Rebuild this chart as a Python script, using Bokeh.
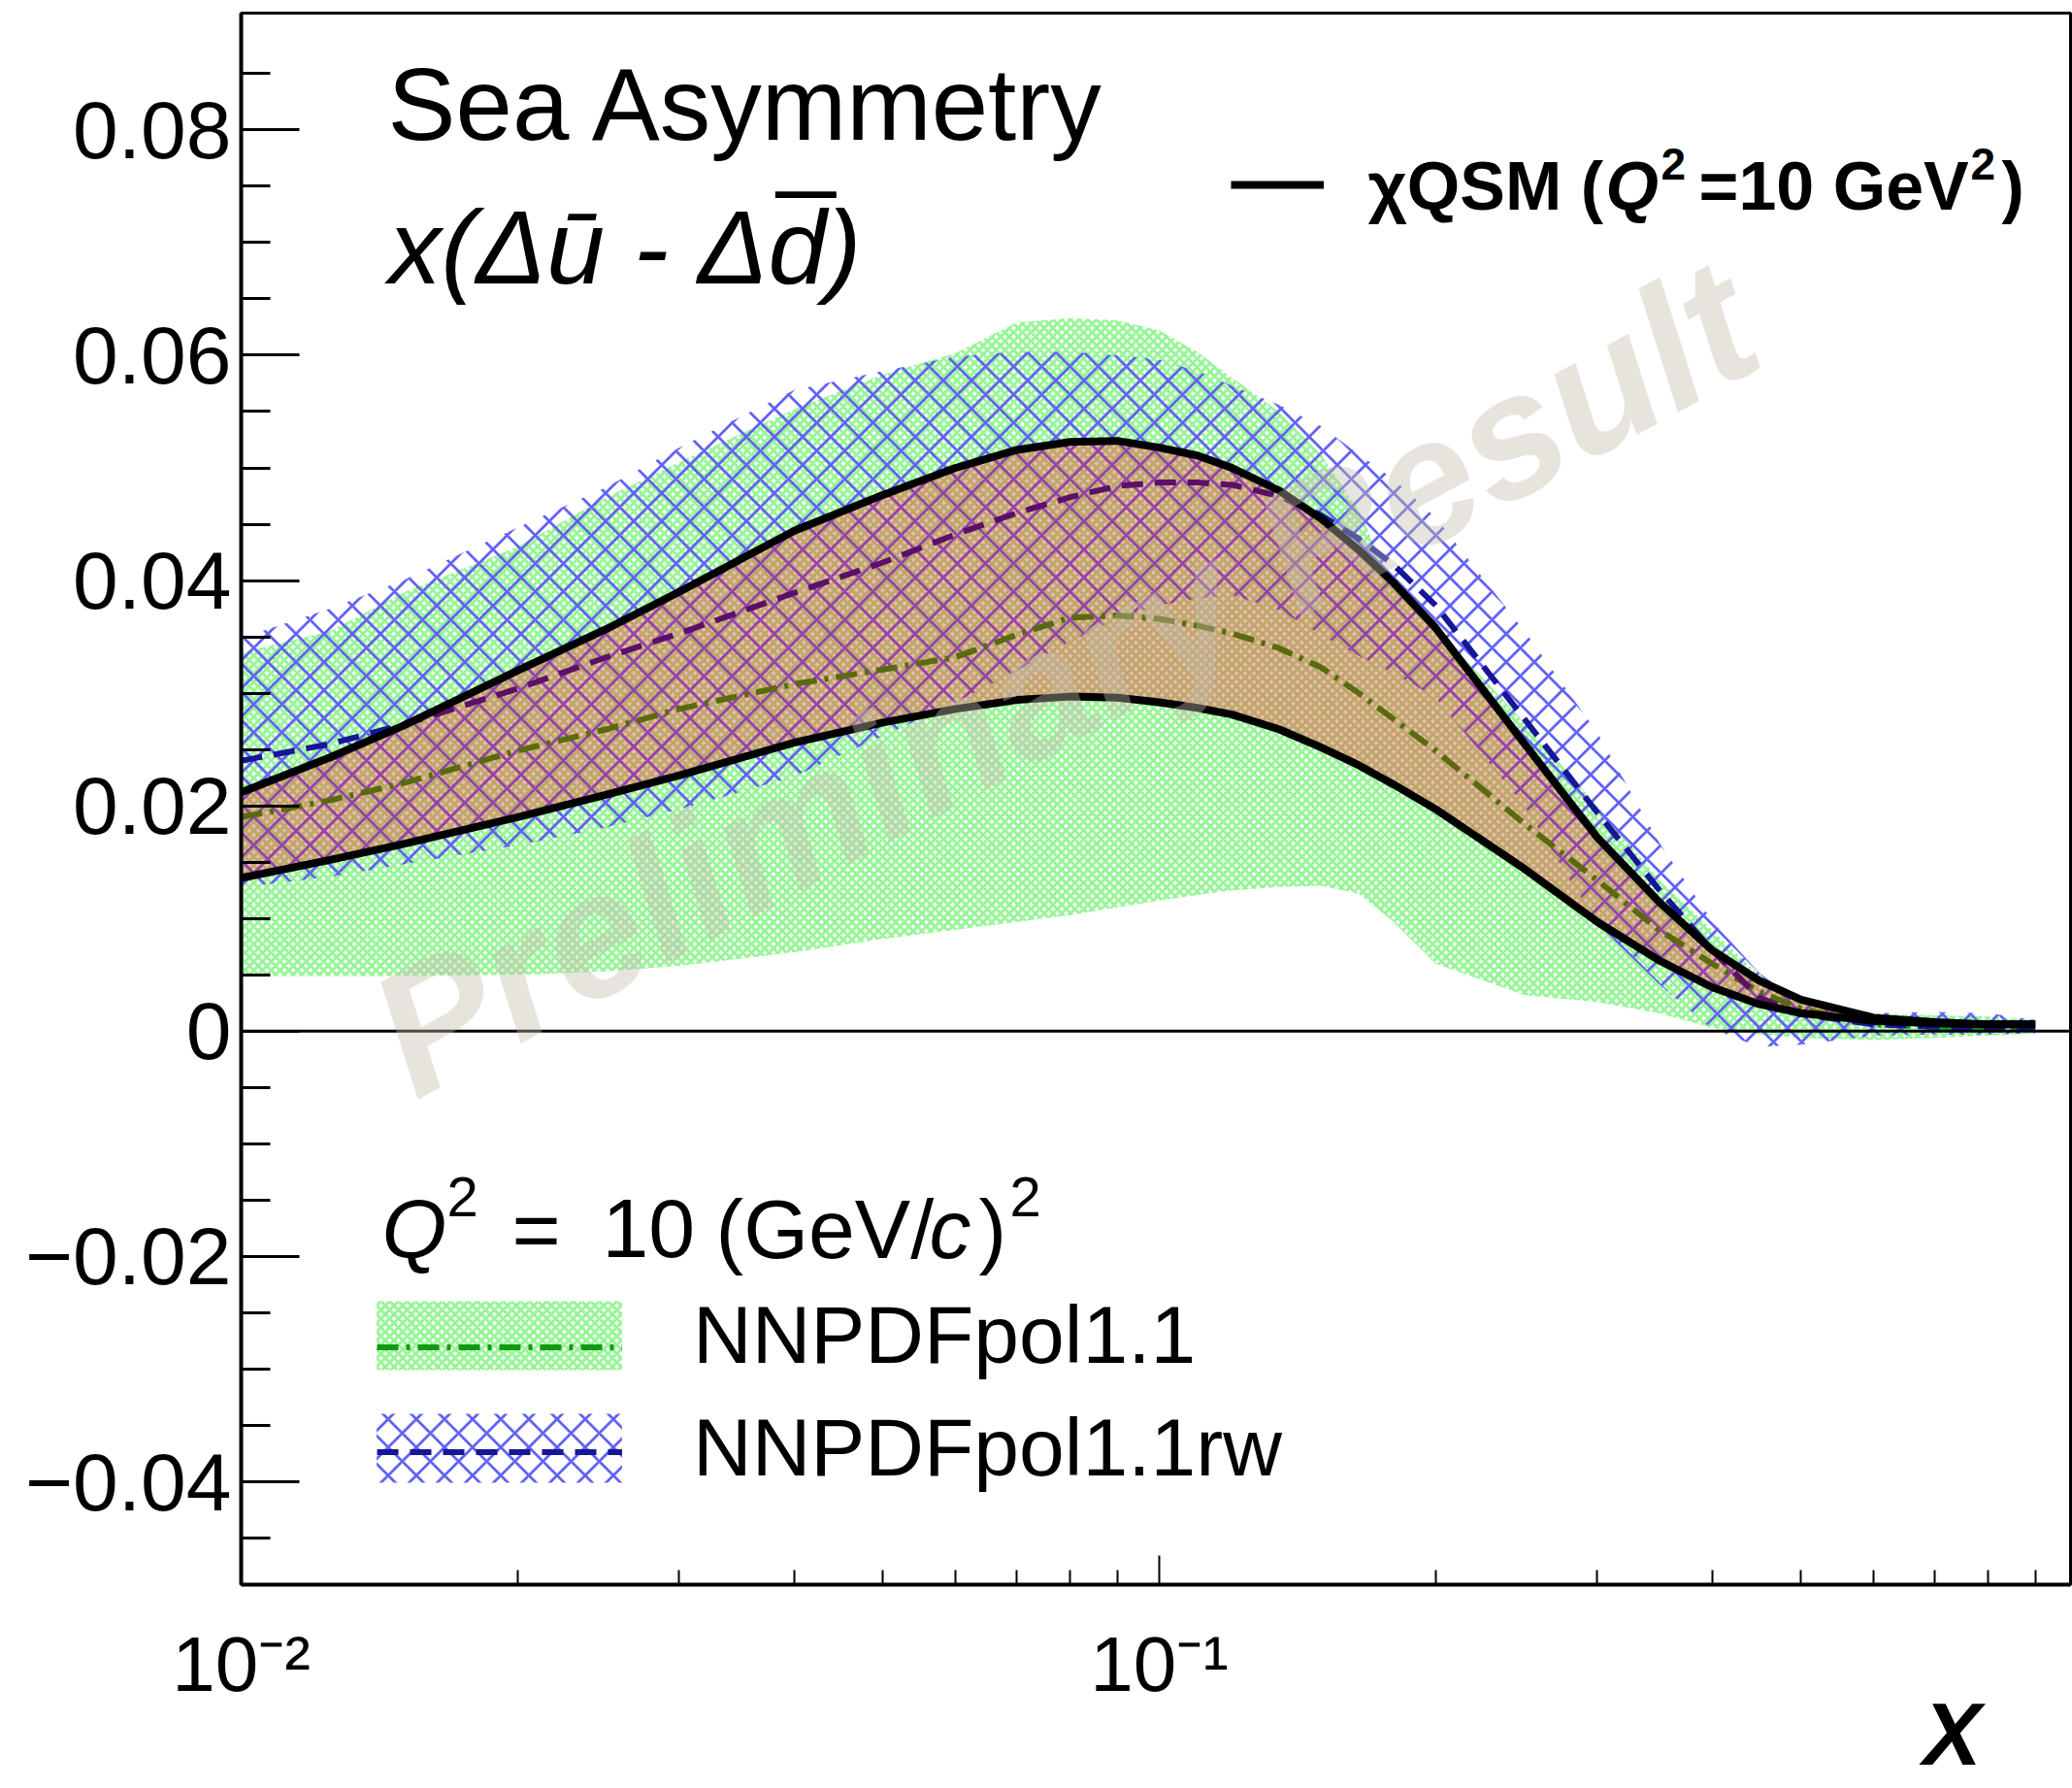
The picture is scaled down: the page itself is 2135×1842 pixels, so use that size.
import math
from bokeh.plotting import figure
from bokeh.models import (Range1d, FixedTicker, CustomJSTickFormatter, Label,
                          Legend, LegendItem, Span, Title)
from bokeh.core.properties import value
from bokeh.embed import file_html
from bokeh.resources import INLINE

# ---------------- data ----------------
x_vals = [0.01, 0.0125, 0.015, 0.02, 0.025, 0.03, 0.04, 0.05, 0.06, 0.07, 0.08,
          0.09, 0.1, 0.11, 0.12, 0.135, 0.15, 0.165, 0.18, 0.2, 0.25, 0.3, 0.35,
          0.4, 0.45, 0.5, 0.6, 0.7, 0.8, 0.9]

# chiQSM band (upper / lower black curves)
qsm_hi = [0.0212, 0.0243, 0.0271, 0.0320, 0.0357, 0.0390, 0.0444, 0.0476, 0.0500,
          0.0516, 0.0523, 0.0524, 0.0518, 0.0511, 0.0500, 0.0480, 0.0455, 0.0427,
          0.0398, 0.0358, 0.0255, 0.0172, 0.0115, 0.0072, 0.0045, 0.0028, 0.0012,
          0.0008, 0.0006, 0.0006]
qsm_lo = [0.0136, 0.0152, 0.0166, 0.0190, 0.0210, 0.0227, 0.0256, 0.0274, 0.0286,
          0.0294, 0.0297, 0.0296, 0.0292, 0.0287, 0.0281, 0.0268, 0.0252, 0.0236,
          0.0219, 0.0197, 0.0144, 0.0097, 0.0063, 0.0039, 0.0024, 0.0016, 0.0009,
          0.0007, 0.0006, 0.0006]

# NNPDFpol1.1 (central + error band)
nn_c = [0.0190, 0.0205, 0.0220, 0.0249, 0.0268, 0.0286, 0.0308, 0.0321, 0.0332,
        0.0352, 0.0367, 0.0369, 0.0366, 0.0360, 0.0353, 0.0340, 0.0323, 0.0300,
        0.0277, 0.0249, 0.0184, 0.0134, 0.0090, 0.0060, 0.0035, 0.0020, 0.0006,
        0.0004, 0.0003, 0.0003]
nn_hi = [0.0336, 0.0355, 0.0389, 0.0430, 0.0474, 0.0505, 0.0552, 0.0583, 0.0602,
         0.0629, 0.0633, 0.0631, 0.0622, 0.0603, 0.0580, 0.0550, 0.0512, 0.0462,
         0.0395, 0.0358, 0.0274, 0.0200, 0.0135, 0.0090, 0.0050, 0.0028, 0.0016,
         0.0014, 0.0013, 0.0010]
nn_lo = [0.0049, 0.0049, 0.0049, 0.0050, 0.0053, 0.0058, 0.0070, 0.0082, 0.0090,
         0.0097, 0.0103, 0.0110, 0.0116, 0.0121, 0.0125, 0.0128, 0.0129, 0.0122,
         0.0097, 0.0060, 0.0032, 0.0026, 0.0016, 0.0003, -0.0003, -0.0006, -0.0008,
         -0.0006, -0.0004, -0.0002]

# NNPDFpol1.1rw (central + error band)
rw_c = [0.0240, 0.0255, 0.0272, 0.0304, 0.0332, 0.0353, 0.0389, 0.0416, 0.0441,
        0.0460, 0.0474, 0.0484, 0.0487, 0.0487, 0.0485, 0.0475, 0.0458, 0.0437,
        0.0414, 0.0378, 0.0277, 0.0194, 0.0126, 0.0072, 0.0030, 0.0015, 0.0006,
        0.0004, 0.0003, 0.0003]
rw_hi = [0.0349, 0.0375, 0.0400, 0.0447, 0.0483, 0.0518, 0.0569, 0.0586, 0.0599,
         0.0603, 0.0603, 0.0600, 0.0596, 0.0586, 0.0573, 0.0556, 0.0537, 0.0512,
         0.0490, 0.0456, 0.0355, 0.0265, 0.0168, 0.0098, 0.0052, 0.0024, 0.0016,
         0.0017, 0.0016, 0.0010]
rw_lo = [0.0128, 0.0137, 0.0148, 0.0165, 0.0181, 0.0197, 0.0226, 0.0262, 0.0292,
         0.0320, 0.0346, 0.0366, 0.0378, 0.0384, 0.0387, 0.0374, 0.0352, 0.0333,
         0.0318, 0.0296, 0.0200, 0.0095, 0.0042, 0.0002, -0.0014, -0.0012, -0.0004,
         -0.0003, -0.0003, -0.0002]

y_ticks = [-0.04, -0.02, 0.0, 0.02, 0.04, 0.06, 0.08]
x_ticks = [0.01, 0.1, 1.0]

# ---------------- layout ----------------
W, H = 2135, 1842
FL, FR, FT, FB = 248, 2133, 13, 1632
DECADE_PX = 946
XMIN = 0.01
XMAX = 10 ** (math.log10(XMIN) + (FR - FL) / DECADE_PX)
YMIN, YMAX = -0.04913, 0.09037
FONT = "Liberation Sans"


def px2x(px):
    lo, hi = math.log10(XMIN), math.log10(XMAX)
    return 10 ** (lo + (px - FL) / (FR - FL) * (hi - lo))


def py2y(py):
    return YMAX - (py - FT) / (FB - FT) * (YMAX - YMIN)


p = figure(width=W, height=H, x_axis_type="log",
           x_range=Range1d(XMIN, XMAX), y_range=Range1d(YMIN, YMAX),
           output_backend="svg", toolbar_location=None,
           min_border_left=FL, min_border_right=W - FR,
           min_border_top=FT, min_border_bottom=H - FB)
p.background_fill_color = "white"
p.border_fill_color = "white"
p.xgrid.visible = False
p.ygrid.visible = False
p.outline_line_color = "black"
p.outline_line_width = 3

# ---------------- glyphs ----------------
GREEN_HATCH = "#96f596"
BLUE_HATCH = "#6262f2"

r_nn_band = p.varea(x=x_vals, y1=nn_lo, y2=nn_hi, fill_color=None, fill_alpha=0,
                    hatch_pattern="diagonal_cross", hatch_scale=9, hatch_weight=3,
                    hatch_color=GREEN_HATCH, hatch_alpha=1.0)
r_rw_band = p.varea(x=x_vals, y1=rw_lo, y2=rw_hi, fill_color=None, fill_alpha=0,
                    hatch_pattern="diagonal_cross", hatch_scale=29, hatch_weight=2.8,
                    hatch_color=BLUE_HATCH, hatch_alpha=1.0)
r_nn_line = p.line(x=x_vals, y=nn_c, line_color="#129a12", line_width=6,
                   line_dash="22 8 4 8")
r_rw_line = p.line(x=x_vals, y=rw_c, line_color="#161696", line_width=6,
                   line_dash="22 12")
p.varea(x=x_vals, y1=qsm_lo, y2=qsm_hi, fill_color="#ff0000", fill_alpha=0.3)
r_qsm_hi = p.line(x=x_vals, y=qsm_hi, line_color="black", line_width=8)
r_qsm_lo = p.line(x=x_vals, y=qsm_lo, line_color="black", line_width=8)

p.add_layout(Span(location=0, dimension="width", line_color="black", line_width=3))

# ---------------- axes ----------------
y_minor = [round(-0.045 + 0.005 * i, 4) for i in range(27)]
p.yaxis.ticker = FixedTicker(ticks=y_ticks, minor_ticks=y_minor)
p.yaxis.formatter = CustomJSTickFormatter(code="""
if (Math.abs(tick) < 1e-9) { return "0"; }
const s = Math.abs(tick).toFixed(2);
return (tick < 0 ? "\u2212" : "") + s;
""")
x_minor = [k * 10 ** e for e in (-2, -1) for k in range(2, 10)]
p.xaxis.ticker = FixedTicker(ticks=x_ticks, minor_ticks=x_minor)
p.xaxis.formatter = CustomJSTickFormatter(code="""
const e = Math.round(Math.log10(tick));
if (e === 0) { return "1"; }
const sup = {"-": "\u207b", "0": "\u2070", "1": "\u00b9", "2": "\u00b2", "3": "\u00b3"};
return "10" + String(e).split("").map(c => sup[c]).join("");
""")

ay = p.yaxis[0]
ay.major_tick_in = 60
ay.major_tick_out = 0
ay.minor_tick_in = 30
ay.minor_tick_out = 0
ay.major_tick_line_width = 3
ay.minor_tick_line_width = 3
ay.axis_line_width = 4
ay.major_label_text_font = FONT
ay.major_label_text_font_size = "84px"
ay.major_label_standoff = 10
ay.major_label_text_color = "black"

ax = p.xaxis[0]
ax.major_tick_in = 30
ax.major_tick_out = 0
ax.minor_tick_in = 15
ax.minor_tick_out = 0
ax.major_tick_line_width = 2
ax.minor_tick_line_width = 2
ax.axis_line_width = 4
ax.major_label_text_font = FONT
ax.major_label_text_font_size = "80px"
ax.major_label_standoff = 37
ax.major_label_text_color = "black"

# x axis title: a title panel under the axis, right aligned near the axis end
p.add_layout(Title(text="X", align="right", offset=92, vertical_align="middle",
                   standoff=-52, text_font=FONT, text_font_size="90px",
                   text_font_style="bold italic", text_color="black"), "below")


# ---------------- texts ----------------
def add_label(text, px, py_base, size, style="normal", align="left"):
    # py_base: wanted baseline (pixels); anchor on the middle of the text box
    mid = py_base - 0.3465 * size
    p.add_layout(Label(x=px2x(px), y=py2y(mid), text=text, text_font=FONT,
                       text_font_size=f"{size}px", text_font_style=style,
                       text_align=align, text_baseline="middle", text_color="black"))


add_label("Sea Asymmetry", 399, 143, 105)
add_label("x(\u0394\u016b - \u0394d)", 400, 291, 108, style="italic")
add_label("_", 800, 182, 108)          # bar over the d

# header of the lower legend: Q^2 = 10 (GeV/c)^2
add_label("Q", 393, 1295, 86, style="italic")
add_label("2", 460, 1253, 58)
add_label("=", 527, 1295, 86)
add_label("10", 620, 1295, 86)
add_label("(GeV/", 737, 1295, 86)
add_label("c", 957, 1295, 86, style="italic")
add_label(")", 1008, 1295, 86)
add_label("2", 1040, 1253, 58)

# text of the upper legend: chiQSM (Q^2=10 GeV^2)
add_label("\u03c7QSM (", 1409, 216, 70, style="bold")
add_label("Q", 1654, 216, 70, style="bold italic")
add_label("2", 1711, 184, 46, style="bold")
add_label("=10 GeV", 1750, 216, 70, style="bold")
add_label("2", 2030, 184, 46, style="bold")
add_label(")", 2062, 216, 70, style="bold")

# watermark
p.add_layout(Label(x=px2x(1095), y=py2y(698), text="Preliminary Result",
                   angle=28.6, angle_units="deg", text_align="center",
                   text_baseline="middle", text_font=FONT,
                   text_font_style="bold italic", text_font_size="181px",
                   text_color="#c4bcac", text_alpha=0.4))

# ---------------- legends ----------------
leg_common = dict(spacing=19, padding=0, margin=0, border_line_color=None,
                  background_fill_alpha=0, label_text_font=FONT,
                  label_text_font_size="84px", label_text_color="black",
                  glyph_height=89)
leg_bands = Legend(items=[LegendItem(label=value("NNPDFpol1.1"), renderers=[r_nn_band]),
                          LegendItem(label=value("NNPDFpol1.1rw"), renderers=[r_rw_band])],
                   location=(108, 92), glyph_width=316, label_standoff=42, **leg_common)
p.add_layout(leg_bands)
leg_lines = Legend(items=[LegendItem(label=value(" "), renderers=[r_nn_line]),
                          LegendItem(label=value(" "), renderers=[r_rw_line])],
                   location=(140, 92), glyph_width=253, label_standoff=10, **leg_common)
p.add_layout(leg_lines)

leg_qsm = Legend(items=[LegendItem(label=value(" "), renderers=[r_qsm_hi])],
                 location=(1020, 1402), glyph_width=96, glyph_height=80,
                 label_standoff=10, padding=0, margin=0,
                 border_line_color=None, background_fill_alpha=0,
                 label_text_font=FONT, label_text_font_size="70px")
p.add_layout(leg_qsm)

open("out.html", "w").write(file_html(p, INLINE))
